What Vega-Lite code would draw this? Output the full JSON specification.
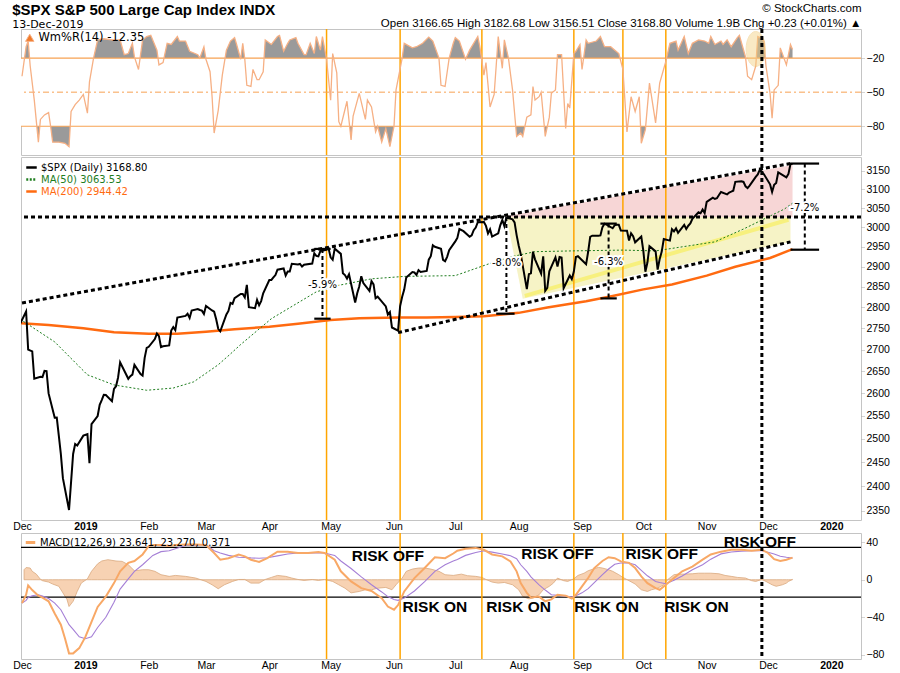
{
"$schema":"https://vega.github.io/schema/vega-lite/v6.json",
"background":"white",
"padding":{"left":12,"right":4,"top":1,"bottom":0},
"spacing":0,
"config":{"view":{"stroke":"#c4c4c4"},"font":"Liberation Sans",
 "axis":{"labelFont":"Liberation Sans","labelFontSize":10.5,"labelColor":"#000","grid":false,"domain":false,"tickColor":"#aaaaaa","tickSize":3,"title":null},
 "legend":{"orient":"top-left","title":null,"symbolType":"stroke","symbolSize":110,"symbolStrokeWidth":2.5,"labelFont":"DejaVu Sans","labelFontSize":10,"rowPadding":0,"padding":2,"offset":2,"labelOffset":3,"labelLimit":500}},
"title":{"text":"$SPX  S&P 500 Large Cap Index  INDX","subtitle":"13-Dec-2019","anchor":"start","font":"Liberation Sans","fontSize":15,"fontWeight":"bold","subtitleFont":"DejaVu Sans","subtitleFontSize":11,"subtitleColor":"#000","subtitlePadding":1,"offset":-28},
"resolve":{"scale":{"x":"independent","y":"independent","color":"independent"},"legend":{"color":"independent"}},
"datasets":{
"price":[{"d":"2018-11-30","v":2760.17},{"d":"2018-12-03","v":2790.37},{"d":"2018-12-04","v":2700.06},{"d":"2018-12-06","v":2695.95},{"d":"2018-12-07","v":2633.08},{"d":"2018-12-10","v":2637.72},{"d":"2018-12-11","v":2636.78},{"d":"2018-12-12","v":2651.07},{"d":"2018-12-13","v":2650.54},{"d":"2018-12-14","v":2599.95},{"d":"2018-12-17","v":2545.94},{"d":"2018-12-18","v":2546.16},{"d":"2018-12-19","v":2506.96},{"d":"2018-12-20","v":2467.42},{"d":"2018-12-21","v":2416.62},{"d":"2018-12-24","v":2351.1},{"d":"2018-12-26","v":2467.7},{"d":"2018-12-27","v":2488.83},{"d":"2018-12-28","v":2485.74},{"d":"2018-12-31","v":2506.85},
{"d":"2019-01-02","v":2510.03},{"d":"2019-01-03","v":2447.89},{"d":"2019-01-04","v":2531.94},{"d":"2019-01-07","v":2549.69},{"d":"2019-01-08","v":2574.41},{"d":"2019-01-09","v":2584.96},{"d":"2019-01-10","v":2596.64},{"d":"2019-01-11","v":2596.26},{"d":"2019-01-14","v":2582.61},{"d":"2019-01-15","v":2610.3},{"d":"2019-01-16","v":2616.1},{"d":"2019-01-17","v":2635.96},{"d":"2019-01-18","v":2670.71},{"d":"2019-01-22","v":2632.9},{"d":"2019-01-23","v":2638.7},{"d":"2019-01-24","v":2642.33},{"d":"2019-01-25","v":2664.76},{"d":"2019-01-28","v":2643.85},{"d":"2019-01-29","v":2640},{"d":"2019-01-30","v":2681.05},{"d":"2019-01-31","v":2704.1},
{"d":"2019-02-01","v":2706.53},{"d":"2019-02-04","v":2724.87},{"d":"2019-02-05","v":2737.7},{"d":"2019-02-06","v":2731.61},{"d":"2019-02-07","v":2706.05},{"d":"2019-02-08","v":2707.88},{"d":"2019-02-11","v":2709.8},{"d":"2019-02-12","v":2744.73},{"d":"2019-02-13","v":2753.03},{"d":"2019-02-14","v":2745.73},{"d":"2019-02-15","v":2775.6},{"d":"2019-02-19","v":2779.76},{"d":"2019-02-20","v":2784.7},{"d":"2019-02-21","v":2774.88},{"d":"2019-02-22","v":2792.67},{"d":"2019-02-25","v":2796.11},{"d":"2019-02-26","v":2793.9},{"d":"2019-02-27","v":2792.38},{"d":"2019-02-28","v":2784.49},
{"d":"2019-03-01","v":2803.69},{"d":"2019-03-04","v":2792.81},{"d":"2019-03-05","v":2789.65},{"d":"2019-03-06","v":2771.45},{"d":"2019-03-07","v":2748.93},{"d":"2019-03-08","v":2743.07},{"d":"2019-03-11","v":2783.3},{"d":"2019-03-12","v":2791.52},{"d":"2019-03-13","v":2810.92},{"d":"2019-03-14","v":2808.48},{"d":"2019-03-15","v":2822.48},{"d":"2019-03-18","v":2832.94},{"d":"2019-03-19","v":2832.57},{"d":"2019-03-20","v":2824.23},{"d":"2019-03-21","v":2854.88},{"d":"2019-03-22","v":2800.71},{"d":"2019-03-25","v":2798.36},{"d":"2019-03-26","v":2818.46},{"d":"2019-03-27","v":2805.37},{"d":"2019-03-28","v":2815.44},{"d":"2019-03-29","v":2834.4},
{"d":"2019-04-01","v":2867.19},{"d":"2019-04-02","v":2867.24},{"d":"2019-04-03","v":2873.4},{"d":"2019-04-04","v":2879.39},{"d":"2019-04-05","v":2892.74},{"d":"2019-04-08","v":2895.77},{"d":"2019-04-09","v":2878.2},{"d":"2019-04-10","v":2888.21},{"d":"2019-04-11","v":2888.32},{"d":"2019-04-12","v":2907.41},{"d":"2019-04-15","v":2905.58},{"d":"2019-04-16","v":2907.06},{"d":"2019-04-17","v":2900.45},{"d":"2019-04-18","v":2905.03},{"d":"2019-04-22","v":2907.97},{"d":"2019-04-23","v":2933.68},{"d":"2019-04-24","v":2927.25},{"d":"2019-04-25","v":2926.17},{"d":"2019-04-26","v":2939.88},{"d":"2019-04-29","v":2943.03},{"d":"2019-04-30","v":2945.83},
{"d":"2019-05-01","v":2923.73},{"d":"2019-05-02","v":2917.52},{"d":"2019-05-03","v":2945.64},{"d":"2019-05-06","v":2932.47},{"d":"2019-05-07","v":2884.05},{"d":"2019-05-08","v":2879.42},{"d":"2019-05-09","v":2870.72},{"d":"2019-05-10","v":2881.4},{"d":"2019-05-13","v":2811.87},{"d":"2019-05-14","v":2834.41},{"d":"2019-05-15","v":2850.96},{"d":"2019-05-16","v":2876.32},{"d":"2019-05-17","v":2859.53},{"d":"2019-05-20","v":2840.23},{"d":"2019-05-21","v":2864.36},{"d":"2019-05-22","v":2856.27},{"d":"2019-05-23","v":2822.24},{"d":"2019-05-24","v":2826.06},{"d":"2019-05-28","v":2802.39},{"d":"2019-05-29","v":2783.02},{"d":"2019-05-30","v":2788.86},{"d":"2019-05-31","v":2752.06},
{"d":"2019-06-03","v":2744.45},{"d":"2019-06-04","v":2803.27},{"d":"2019-06-05","v":2826.15},{"d":"2019-06-06","v":2843.49},{"d":"2019-06-07","v":2873.34},{"d":"2019-06-10","v":2886.73},{"d":"2019-06-11","v":2885.72},{"d":"2019-06-12","v":2879.84},{"d":"2019-06-13","v":2891.64},{"d":"2019-06-14","v":2886.98},{"d":"2019-06-17","v":2889.67},{"d":"2019-06-18","v":2917.75},{"d":"2019-06-19","v":2926.46},{"d":"2019-06-20","v":2954.18},{"d":"2019-06-21","v":2950.46},{"d":"2019-06-24","v":2945.35},{"d":"2019-06-25","v":2917.38},{"d":"2019-06-26","v":2913.78},{"d":"2019-06-27","v":2924.92},{"d":"2019-06-28","v":2941.76},
{"d":"2019-07-01","v":2964.33},{"d":"2019-07-02","v":2973.01},{"d":"2019-07-03","v":2995.82},{"d":"2019-07-05","v":2990.41},{"d":"2019-07-08","v":2975.95},{"d":"2019-07-09","v":2979.63},{"d":"2019-07-10","v":2993.07},{"d":"2019-07-11","v":2999.91},{"d":"2019-07-12","v":3013.77},{"d":"2019-07-15","v":3014.3},{"d":"2019-07-16","v":3004.04},{"d":"2019-07-17","v":2984.42},{"d":"2019-07-18","v":2995.11},{"d":"2019-07-19","v":2976.61},{"d":"2019-07-22","v":2985.03},{"d":"2019-07-23","v":3005.47},{"d":"2019-07-24","v":3019.56},{"d":"2019-07-25","v":3003.67},{"d":"2019-07-26","v":3025.86},{"d":"2019-07-29","v":3020.97},{"d":"2019-07-30","v":3013.18},{"d":"2019-07-31","v":2980.38},
{"d":"2019-08-01","v":2953.56},{"d":"2019-08-02","v":2932.05},{"d":"2019-08-05","v":2844.74},{"d":"2019-08-06","v":2881.77},{"d":"2019-08-07","v":2883.98},{"d":"2019-08-08","v":2938.09},{"d":"2019-08-09","v":2918.65},{"d":"2019-08-12","v":2882.7},{"d":"2019-08-13","v":2926.32},{"d":"2019-08-14","v":2840.6},{"d":"2019-08-15","v":2847.6},{"d":"2019-08-16","v":2888.68},{"d":"2019-08-19","v":2923.65},{"d":"2019-08-20","v":2900.51},{"d":"2019-08-21","v":2924.43},{"d":"2019-08-22","v":2922.95},{"d":"2019-08-23","v":2847.11},{"d":"2019-08-26","v":2878.38},{"d":"2019-08-27","v":2869.16},{"d":"2019-08-28","v":2887.94},{"d":"2019-08-29","v":2924.58},{"d":"2019-08-30","v":2926.46},
{"d":"2019-09-03","v":2906.27},{"d":"2019-09-04","v":2937.78},{"d":"2019-09-05","v":2976},{"d":"2019-09-06","v":2978.71},{"d":"2019-09-09","v":2978.43},{"d":"2019-09-10","v":2979.39},{"d":"2019-09-11","v":3000.93},{"d":"2019-09-12","v":3009.57},{"d":"2019-09-13","v":3007.39},{"d":"2019-09-16","v":2997.96},{"d":"2019-09-17","v":3005.7},{"d":"2019-09-18","v":3006.73},{"d":"2019-09-19","v":3006.79},{"d":"2019-09-20","v":2992.07},{"d":"2019-09-23","v":2991.78},{"d":"2019-09-24","v":2966.6},{"d":"2019-09-25","v":2984.87},{"d":"2019-09-26","v":2977.62},{"d":"2019-09-27","v":2961.79},{"d":"2019-09-30","v":2976.74},
{"d":"2019-10-01","v":2940.25},{"d":"2019-10-02","v":2887.61},{"d":"2019-10-03","v":2910.63},{"d":"2019-10-04","v":2952.01},{"d":"2019-10-07","v":2938.79},{"d":"2019-10-08","v":2893.06},{"d":"2019-10-09","v":2919.4},{"d":"2019-10-10","v":2938.13},{"d":"2019-10-11","v":2970.27},{"d":"2019-10-14","v":2966.15},{"d":"2019-10-15","v":2995.68},{"d":"2019-10-16","v":2989.69},{"d":"2019-10-17","v":2997.95},{"d":"2019-10-18","v":2986.2},{"d":"2019-10-21","v":3006.72},{"d":"2019-10-22","v":2995.99},{"d":"2019-10-23","v":3004.52},{"d":"2019-10-24","v":3010.29},{"d":"2019-10-25","v":3022.55},{"d":"2019-10-28","v":3039.42},{"d":"2019-10-29","v":3036.89},{"d":"2019-10-30","v":3046.77},{"d":"2019-10-31","v":3037.56},
{"d":"2019-11-01","v":3066.91},{"d":"2019-11-04","v":3078.27},{"d":"2019-11-05","v":3074.62},{"d":"2019-11-06","v":3076.78},{"d":"2019-11-07","v":3085.18},{"d":"2019-11-08","v":3093.08},{"d":"2019-11-11","v":3087.01},{"d":"2019-11-12","v":3091.84},{"d":"2019-11-13","v":3094.04},{"d":"2019-11-14","v":3096.63},{"d":"2019-11-15","v":3120.46},{"d":"2019-11-18","v":3122.03},{"d":"2019-11-19","v":3120.18},{"d":"2019-11-20","v":3108.46},{"d":"2019-11-21","v":3103.54},{"d":"2019-11-22","v":3110.29},{"d":"2019-11-25","v":3133.64},{"d":"2019-11-26","v":3140.52},{"d":"2019-11-27","v":3153.63},{"d":"2019-11-29","v":3140.98},
{"d":"2019-12-02","v":3113.87},{"d":"2019-12-03","v":3093.2},{"d":"2019-12-04","v":3112.76},{"d":"2019-12-05","v":3117.43},{"d":"2019-12-06","v":3145.91},{"d":"2019-12-09","v":3135.96},{"d":"2019-12-10","v":3132.52},{"d":"2019-12-11","v":3141.63},{"d":"2019-12-12","v":3168.57},{"d":"2019-12-13","v":3168.8}],
"ma50":[{"d":"2018-11-30","v":2772},{"d":"2018-12-17","v":2718},{"d":"2019-01-02","v":2642},{"d":"2019-01-15","v":2619},{"d":"2019-01-31","v":2607},{"d":"2019-02-13","v":2612},{"d":"2019-02-23","v":2626},{"d":"2019-03-07","v":2665},{"d":"2019-03-13","v":2690},{"d":"2019-03-18","v":2712},{"d":"2019-04-02","v":2773},{"d":"2019-04-24","v":2838},{"d":"2019-05-04","v":2853},{"d":"2019-05-21","v":2870},{"d":"2019-06-06","v":2876},{"d":"2019-07-01","v":2878},{"d":"2019-07-20","v":2912},{"d":"2019-07-30","v":2927},{"d":"2019-08-09","v":2938},{"d":"2019-08-27","v":2940},{"d":"2019-09-21","v":2942},{"d":"2019-10-07","v":2940},{"d":"2019-11-05","v":2963},{"d":"2019-11-19","v":2996},{"d":"2019-12-09","v":3048},{"d":"2019-12-13","v":3063.53}],
"ma200":[{"d":"2018-11-30","v":2762},{"d":"2018-12-14","v":2758},{"d":"2018-12-31","v":2750},{"d":"2019-01-15","v":2741},{"d":"2019-02-01","v":2737},{"d":"2019-02-15","v":2737},{"d":"2019-03-01","v":2742},{"d":"2019-03-15","v":2748},{"d":"2019-04-01","v":2754},{"d":"2019-04-15","v":2761},{"d":"2019-05-01","v":2770},{"d":"2019-05-15","v":2774},{"d":"2019-06-03","v":2776},{"d":"2019-06-17","v":2776},{"d":"2019-07-01","v":2777},{"d":"2019-07-15","v":2779},{"d":"2019-08-01","v":2787},{"d":"2019-08-15","v":2800},{"d":"2019-09-03","v":2815},{"d":"2019-09-16","v":2828},{"d":"2019-10-01","v":2844},{"d":"2019-10-15","v":2856},{"d":"2019-11-01","v":2878},{"d":"2019-11-15","v":2900},{"d":"2019-12-02","v":2922},{"d":"2019-12-13","v":2944.42}],
"wr":[{"d":"2018-12-01","w":-36},{"d":"2018-12-03","w":-10},{"d":"2018-12-04","w":-5},{"d":"2018-12-05","w":-27},{"d":"2018-12-07","w":-57},{"d":"2018-12-09","w":-94},{"d":"2018-12-10","w":-74},{"d":"2018-12-12","w":-70},{"d":"2018-12-14","w":-68},{"d":"2018-12-15","w":-80},{"d":"2018-12-16","w":-94},{"d":"2018-12-19","w":-94},{"d":"2018-12-22","w":-95},{"d":"2018-12-24","w":-98},{"d":"2018-12-25","w":-67},{"d":"2018-12-27","w":-61},{"d":"2018-12-29","w":-57},{"d":"2018-12-31","w":-52},
{"d":"2019-01-02","w":-68.5},{"d":"2019-01-03","w":-41},{"d":"2019-01-05","w":-20},{"d":"2019-01-07","w":-4},{"d":"2019-01-10","w":-3},{"d":"2019-01-14","w":-4},{"d":"2019-01-18","w":-4},{"d":"2019-01-20","w":-17},{"d":"2019-01-22","w":-16},{"d":"2019-01-24","w":-7},{"d":"2019-01-25","w":-19},{"d":"2019-01-27","w":-30},{"d":"2019-01-29","w":-4},{"d":"2019-01-31","w":-1},{"d":"2019-02-02","w":0},{"d":"2019-02-05","w":-13},{"d":"2019-02-06","w":-26},{"d":"2019-02-08","w":-24},{"d":"2019-02-10","w":-7},{"d":"2019-02-12","w":-8},{"d":"2019-02-15","w":-1},{"d":"2019-02-16","w":-5},{"d":"2019-02-19","w":-5},{"d":"2019-02-21","w":-14},{"d":"2019-02-25","w":-17},{"d":"2019-02-26","w":-20},{"d":"2019-02-28","w":-10},
{"d":"2019-03-01","w":-21},{"d":"2019-03-03","w":-32},{"d":"2019-03-04","w":-54},{"d":"2019-03-05","w":-86},{"d":"2019-03-07","w":-66},{"d":"2019-03-09","w":-35},{"d":"2019-03-11","w":-13},{"d":"2019-03-13","w":-5},{"d":"2019-03-15","w":-2},{"d":"2019-03-16","w":-8},{"d":"2019-03-18","w":-21},{"d":"2019-03-19","w":-7},{"d":"2019-03-20","w":-21},{"d":"2019-03-21","w":-44},{"d":"2019-03-23","w":-45},{"d":"2019-03-24","w":-30},{"d":"2019-03-26","w":-39},{"d":"2019-03-27","w":-39},{"d":"2019-03-29","w":-32},{"d":"2019-03-30","w":-4},
{"d":"2019-04-02","w":-8},{"d":"2019-04-05","w":-1},{"d":"2019-04-06","w":0},{"d":"2019-04-08","w":-14},{"d":"2019-04-10","w":-7},{"d":"2019-04-11","w":-4},{"d":"2019-04-14","w":-2},{"d":"2019-04-15","w":-7},{"d":"2019-04-18","w":-17},{"d":"2019-04-19","w":-17},{"d":"2019-04-21","w":-7},{"d":"2019-04-23","w":-16},{"d":"2019-04-24","w":-1},{"d":"2019-04-26","w":-13},{"d":"2019-04-27","w":-1},{"d":"2019-04-29","w":-21},
{"d":"2019-05-01","w":-57},{"d":"2019-05-02","w":-16},{"d":"2019-05-04","w":-33},{"d":"2019-05-05","w":-76},{"d":"2019-05-06","w":-80},{"d":"2019-05-09","w":-58},{"d":"2019-05-11","w":-92},{"d":"2019-05-12","w":-71},{"d":"2019-05-15","w":-51},{"d":"2019-05-18","w":-74},{"d":"2019-05-19","w":-57},{"d":"2019-05-21","w":-63},{"d":"2019-05-23","w":-85},{"d":"2019-05-24","w":-80},{"d":"2019-05-26","w":-94},{"d":"2019-05-28","w":-82},{"d":"2019-05-30","w":-98},
{"d":"2019-06-01","w":-80},{"d":"2019-06-02","w":-48},{"d":"2019-06-05","w":-20},{"d":"2019-06-06","w":-7},{"d":"2019-06-10","w":-11},{"d":"2019-06-12","w":-10},{"d":"2019-06-15","w":-7},{"d":"2019-06-18","w":-1.5},{"d":"2019-06-20","w":-5},{"d":"2019-06-23","w":-20},{"d":"2019-06-24","w":-44},{"d":"2019-06-26","w":-45},{"d":"2019-06-28","w":-20},{"d":"2019-06-30","w":-7},
{"d":"2019-07-01","w":-2},{"d":"2019-07-03","w":-5},{"d":"2019-07-06","w":-21},{"d":"2019-07-08","w":-13},{"d":"2019-07-12","w":-1},{"d":"2019-07-13","w":-10},{"d":"2019-07-15","w":-35},{"d":"2019-07-16","w":-24},{"d":"2019-07-18","w":-63},{"d":"2019-07-20","w":-52},{"d":"2019-07-21","w":-27},{"d":"2019-07-22","w":-1},{"d":"2019-07-24","w":-29},{"d":"2019-07-25","w":-4},{"d":"2019-07-27","w":-20},{"d":"2019-07-29","w":-48},{"d":"2019-07-31","w":-89},
{"d":"2019-08-02","w":-86},{"d":"2019-08-03","w":-89},{"d":"2019-08-05","w":-72},{"d":"2019-08-07","w":-70},{"d":"2019-08-08","w":-45},{"d":"2019-08-09","w":-57},{"d":"2019-08-11","w":-54},{"d":"2019-08-12","w":-50},{"d":"2019-08-14","w":-89},{"d":"2019-08-16","w":-72},{"d":"2019-08-17","w":-51},{"d":"2019-08-19","w":-48},{"d":"2019-08-20","w":-17},{"d":"2019-08-22","w":-17},{"d":"2019-08-24","w":-82},{"d":"2019-08-25","w":-60},{"d":"2019-08-26","w":-64},{"d":"2019-08-28","w":-16},{"d":"2019-08-29","w":-14},{"d":"2019-08-31","w":-8},
{"d":"2019-09-01","w":-30},{"d":"2019-09-03","w":-4},{"d":"2019-09-04","w":-7},{"d":"2019-09-08","w":-5},{"d":"2019-09-10","w":-1},{"d":"2019-09-12","w":-10},{"d":"2019-09-15","w":-10},{"d":"2019-09-19","w":-16},{"d":"2019-09-21","w":-30},{"d":"2019-09-23","w":-85},{"d":"2019-09-25","w":-54},{"d":"2019-09-27","w":-67},{"d":"2019-09-29","w":-54},{"d":"2019-09-30","w":-95},
{"d":"2019-10-02","w":-83},{"d":"2019-10-04","w":-42},{"d":"2019-10-07","w":-77},{"d":"2019-10-09","w":-42},{"d":"2019-10-12","w":-23},{"d":"2019-10-14","w":-7},{"d":"2019-10-17","w":-5},{"d":"2019-10-18","w":-13},{"d":"2019-10-20","w":-5},{"d":"2019-10-21","w":-1},{"d":"2019-10-23","w":-16},{"d":"2019-10-25","w":-7},{"d":"2019-10-28","w":-4},{"d":"2019-10-31","w":-5},
{"d":"2019-11-02","w":-7},{"d":"2019-11-03","w":-1},{"d":"2019-11-05","w":-8},{"d":"2019-11-08","w":-5},{"d":"2019-11-09","w":-8},{"d":"2019-11-11","w":-4},{"d":"2019-11-13","w":-10},{"d":"2019-11-16","w":-2},{"d":"2019-11-17","w":0},{"d":"2019-11-20","w":-19},{"d":"2019-11-21","w":-36},{"d":"2019-11-23","w":-39},{"d":"2019-11-25","w":-27},{"d":"2019-11-26","w":-1},{"d":"2019-11-27","w":-2},{"d":"2019-11-29","w":-5},{"d":"2019-11-30","w":-27},
{"d":"2019-12-02","w":-51},{"d":"2019-12-03","w":-73},{"d":"2019-12-04","w":-48},{"d":"2019-12-06","w":-44},{"d":"2019-12-07","w":-11},{"d":"2019-12-09","w":-21},{"d":"2019-12-10","w":-26},{"d":"2019-12-12","w":-8},{"d":"2019-12-13","w":-12.35}],
"macd":[{"d":"2018-12-01","m":-25,"s":-25},{"d":"2018-12-03","m":-16,"s":-22},{"d":"2018-12-04","m":-6,"s":-19},{"d":"2018-12-06","m":-11,"s":-17},{"d":"2018-12-09","m":-17,"s":-16},{"d":"2018-12-11","m":-19,"s":-17.5},{"d":"2018-12-14","m":-23,"s":-20},{"d":"2018-12-17","m":-36,"s":-25},{"d":"2018-12-20","m":-48,"s":-32},{"d":"2018-12-22","m":-62.5,"s":-40},{"d":"2018-12-24","m":-78.6,"s":-48},{"d":"2018-12-26","m":-78.6,"s":-53},{"d":"2018-12-29","m":-73,"s":-61},
{"d":"2019-01-01","m":-61,"s":-63},{"d":"2019-01-04","m":-45,"s":-61},{"d":"2019-01-07","m":-29,"s":-51},{"d":"2019-01-11","m":-18,"s":-40},{"d":"2019-01-15","m":-3.6,"s":-24},{"d":"2019-01-18","m":9,"s":-10},{"d":"2019-01-22","m":18,"s":1},{"d":"2019-01-25","m":20,"s":9},{"d":"2019-01-29","m":27,"s":16},{"d":"2019-02-01","m":36,"s":22},{"d":"2019-02-03","m":37,"s":26},{"d":"2019-02-07","m":37,"s":30},{"d":"2019-02-11","m":36,"s":31},{"d":"2019-02-14","m":37,"s":33},{"d":"2019-02-19","m":37.5,"s":36.5},{"d":"2019-02-24","m":37.5,"s":37},
{"d":"2019-03-01","m":37,"s":37.5},{"d":"2019-03-05","m":28.6,"s":31},{"d":"2019-03-08","m":21.4,"s":28.5},{"d":"2019-03-12","m":23,"s":26},{"d":"2019-03-17","m":27,"s":24},{"d":"2019-03-20","m":25,"s":23.7},{"d":"2019-03-23","m":21.4,"s":23.3},{"d":"2019-03-27","m":19,"s":23},{"d":"2019-03-31","m":23,"s":23.5},{"d":"2019-04-05","m":30,"s":25.5},{"d":"2019-04-10","m":30,"s":27.4},{"d":"2019-04-15","m":28.6,"s":28.6},{"d":"2019-04-20","m":28.6,"s":28.6},{"d":"2019-04-25","m":29.6,"s":28.6},{"d":"2019-04-28","m":28.6,"s":28.6},
{"d":"2019-05-03","m":21.4,"s":26},{"d":"2019-05-06","m":9,"s":20},{"d":"2019-05-11","m":-1.8,"s":12},{"d":"2019-05-16","m":-9,"s":3},{"d":"2019-05-21","m":-12,"s":-5.4},{"d":"2019-05-26","m":-19.6,"s":-13},{"d":"2019-05-29","m":-28.6,"s":-18},{"d":"2019-06-01","m":-32,"s":-21},{"d":"2019-06-03","m":-27,"s":-22},{"d":"2019-06-06","m":-12.5,"s":-19.6},{"d":"2019-06-11","m":1.8,"s":-12},{"d":"2019-06-16","m":12.5,"s":-2},{"d":"2019-06-21","m":24,"s":9},{"d":"2019-06-26","m":23,"s":16},{"d":"2019-06-30","m":28,"s":20},
{"d":"2019-07-02","m":31,"s":21.5},{"d":"2019-07-06","m":33,"s":26},{"d":"2019-07-11","m":34,"s":29},{"d":"2019-07-15","m":32,"s":31},{"d":"2019-07-19","m":27,"s":29.5},{"d":"2019-07-24","m":25,"s":27.5},{"d":"2019-07-28","m":19.6,"s":25.7},{"d":"2019-07-31","m":9,"s":22.5},{"d":"2019-08-02","m":-3.6,"s":16},{"d":"2019-08-05","m":-14,"s":9},{"d":"2019-08-07","m":-19,"s":3},{"d":"2019-08-11","m":-18,"s":-5.4},{"d":"2019-08-14","m":-23,"s":-11},{"d":"2019-08-17","m":-21,"s":-16},{"d":"2019-08-20","m":-16,"s":-16.7},{"d":"2019-08-24","m":-17,"s":-17.5},{"d":"2019-08-27","m":-20,"s":-18.5},{"d":"2019-08-29","m":-16,"s":-17},
{"d":"2019-09-01","m":-7,"s":-14},{"d":"2019-09-04","m":1.8,"s":-9.5},{"d":"2019-09-07","m":12.5,"s":-3},{"d":"2019-09-11","m":20,"s":5.4},{"d":"2019-09-14","m":24,"s":11.5},{"d":"2019-09-17","m":23,"s":16.5},{"d":"2019-09-20","m":19.6,"s":17.8},{"d":"2019-09-24","m":18,"s":17.8},{"d":"2019-09-27","m":12.5,"s":16},{"d":"2019-09-30","m":3.6,"s":10},{"d":"2019-10-03","m":-3.6,"s":4.2},{"d":"2019-10-07","m":-9,"s":-1.8},{"d":"2019-10-09","m":-10.7,"s":-3},{"d":"2019-10-12","m":-5.4,"s":-4.2},{"d":"2019-10-16","m":1.8,"s":-0.5},{"d":"2019-10-20","m":9,"s":4},{"d":"2019-10-25","m":14,"s":10.7},{"d":"2019-10-30","m":21.4,"s":16},
{"d":"2019-11-03","m":27,"s":22},{"d":"2019-11-08","m":30,"s":27.6},{"d":"2019-11-13","m":32,"s":29.6},{"d":"2019-11-18","m":32,"s":30.6},{"d":"2019-11-23","m":31,"s":31},{"d":"2019-11-28","m":32,"s":31},{"d":"2019-12-01","m":28.6,"s":29.4},{"d":"2019-12-04","m":22,"s":27.5},{"d":"2019-12-07","m":20,"s":25},{"d":"2019-12-10","m":21.4,"s":24},{"d":"2019-12-13","m":23.641,"s":23.27}],
"hist":[{"d":"2018-12-02","h":10.7},{"d":"2018-12-03","h":13},{"d":"2018-12-05","h":12.5},{"d":"2018-12-06","h":9},{"d":"2018-12-08","h":6},{"d":"2018-12-10","h":0.5},{"d":"2018-12-11","h":-1},{"d":"2018-12-14","h":-2.5},{"d":"2018-12-16","h":-4.6},{"d":"2018-12-19","h":-7},{"d":"2018-12-21","h":-14},{"d":"2018-12-23","h":-21},{"d":"2018-12-24","h":-28.6},{"d":"2018-12-26","h":-23},{"d":"2018-12-28","h":-12.5},{"d":"2018-12-30","h":-3.6},
{"d":"2019-01-02","h":1},{"d":"2019-01-04","h":9},{"d":"2019-01-07","h":17},{"d":"2019-01-09","h":20},{"d":"2019-01-12","h":21.4},{"d":"2019-01-16","h":20},{"d":"2019-01-19","h":19.6},{"d":"2019-01-22","h":16},{"d":"2019-01-25","h":9.6},{"d":"2019-01-29","h":10.7},{"d":"2019-02-01","h":10.7},{"d":"2019-02-04","h":9},{"d":"2019-02-07","h":5.4},{"d":"2019-02-11","h":3.6},{"d":"2019-02-14","h":4.6},{"d":"2019-02-19","h":3.6},{"d":"2019-02-24","h":1.8},
{"d":"2019-03-01","h":-1.8},{"d":"2019-03-04","h":-5.4},{"d":"2019-03-07","h":-9.6},{"d":"2019-03-10","h":-5.4},{"d":"2019-03-14","h":-1.8},{"d":"2019-03-17","h":0.3},{"d":"2019-03-20","h":0.3},{"d":"2019-03-23","h":-3.6},{"d":"2019-03-27","h":-3.6},{"d":"2019-03-30","h":0.3},{"d":"2019-04-02","h":2.5},{"d":"2019-04-05","h":4.6},{"d":"2019-04-09","h":3.6},{"d":"2019-04-12","h":1.8},{"d":"2019-04-15","h":0.3},{"d":"2019-04-18","h":-0.7},{"d":"2019-04-22","h":0.3},{"d":"2019-04-25","h":-0.7},{"d":"2019-04-28","h":0.3},
{"d":"2019-05-02","h":-1.8},{"d":"2019-05-05","h":-5.4},{"d":"2019-05-08","h":-9},{"d":"2019-05-11","h":-14},{"d":"2019-05-15","h":-12.5},{"d":"2019-05-18","h":-10.7},{"d":"2019-05-21","h":-10.7},{"d":"2019-05-24","h":-9},{"d":"2019-05-28","h":-8.2},{"d":"2019-05-31","h":-10.7},{"d":"2019-06-02","h":-5.4},{"d":"2019-06-05","h":1.8},{"d":"2019-06-07","h":9},{"d":"2019-06-10","h":11.4},{"d":"2019-06-13","h":12.5},{"d":"2019-06-16","h":12.5},{"d":"2019-06-19","h":11.4},{"d":"2019-06-23","h":9},{"d":"2019-06-26","h":5.4},{"d":"2019-06-30","h":4.6},
{"d":"2019-07-04","h":6},{"d":"2019-07-07","h":4.3},{"d":"2019-07-11","h":3.6},{"d":"2019-07-14","h":2.5},{"d":"2019-07-16","h":0.3},{"d":"2019-07-19","h":-2.5},{"d":"2019-07-22","h":-3.6},{"d":"2019-07-25","h":-2.9},{"d":"2019-07-29","h":-5.4},{"d":"2019-08-01","h":-10.7},{"d":"2019-08-03","h":-17.9},{"d":"2019-08-06","h":-20.4},{"d":"2019-08-08","h":-19.6},{"d":"2019-08-11","h":-16},{"d":"2019-08-13","h":-10.7},{"d":"2019-08-16","h":-7},{"d":"2019-08-18","h":-3.6},{"d":"2019-08-20","h":1.8},{"d":"2019-08-23","h":-1},{"d":"2019-08-25","h":-1.8},{"d":"2019-08-28","h":1},{"d":"2019-08-30","h":4.6},
{"d":"2019-09-02","h":7},{"d":"2019-09-04","h":9.6},{"d":"2019-09-07","h":11.8},{"d":"2019-09-09","h":13.2},{"d":"2019-09-11","h":12.5},{"d":"2019-09-14","h":10.7},{"d":"2019-09-16","h":9},{"d":"2019-09-19","h":5.4},{"d":"2019-09-21","h":2.5},{"d":"2019-09-24","h":-1},{"d":"2019-09-27","h":-4.6},{"d":"2019-09-30","h":-10.7},{"d":"2019-10-03","h":-12.5},{"d":"2019-10-05","h":-10.7},{"d":"2019-10-08","h":-9},{"d":"2019-10-11","h":-5.4},{"d":"2019-10-13","h":0.3},{"d":"2019-10-16","h":5.4},{"d":"2019-10-18","h":6},{"d":"2019-10-21","h":6},{"d":"2019-10-25","h":6.4},{"d":"2019-10-28","h":7},{"d":"2019-10-31","h":7},
{"d":"2019-11-03","h":7},{"d":"2019-11-07","h":6.4},{"d":"2019-11-10","h":4.6},{"d":"2019-11-13","h":3.6},{"d":"2019-11-16","h":2.5},{"d":"2019-11-20","h":1.8},{"d":"2019-11-23","h":-1},{"d":"2019-11-25","h":-1.8},{"d":"2019-11-28","h":0.3},{"d":"2019-11-30","h":-1.8},{"d":"2019-12-03","h":-5.4},{"d":"2019-12-05","h":-7},{"d":"2019-12-08","h":-5.4},{"d":"2019-12-10","h":-3.6},{"d":"2019-12-11","h":-1.8},{"d":"2019-12-13","h":0.371}],
"vlines":[{"d":"2019-04-29"},{"d":"2019-06-04"},{"d":"2019-07-14"},{"d":"2019-08-28"},{"d":"2019-09-21"},{"d":"2019-10-12"}],
"blackline":[{"d":"2019-11-28"}],
"trend":[{"k":"upper","d":"2018-12-01","v":2811},{"k":"upper","d":"2019-12-13","v":3171},{"k":"lower","d":"2019-06-03","v":2740},{"k":"lower","d":"2019-12-12","v":2963}],
"meas":[{"d":"2019-04-27","top":2945,"bot":2773,"mid":2855,"lab":"-5.9%"},{"d":"2019-07-26","top":3027,"bot":2785,"mid":2910,"lab":"-8.0%"},{"d":"2019-09-14","top":3010,"bot":2822,"mid":2912,"lab":"-6.3%"},{"d":"2019-12-19","top":3170,"bot":2943,"mid":3051,"lab":"-7.2%"}],
"caps":[{"d1":"2019-04-23","d2":"2019-05-01","v":2945},{"d1":"2019-04-23","d2":"2019-05-01","v":2773},{"d1":"2019-07-21","d2":"2019-07-30","v":2785},{"d1":"2019-09-10","d2":"2019-09-18","v":3010},{"d1":"2019-09-10","d2":"2019-09-18","v":2822},{"d1":"2019-12-12","d2":"2019-12-26","v":3170},{"d1":"2019-12-12","d2":"2019-12-26","v":2943}],
"risk":[{"d":"2019-05-29","v":25.4,"t":"RISK OFF"},{"d":"2019-06-21","v":-29.6,"t":"RISK ON"},{"d":"2019-08-20","v":27.5,"t":"RISK OFF"},{"d":"2019-08-01","v":-29.6,"t":"RISK ON"},{"d":"2019-10-10","v":27.5,"t":"RISK OFF"},{"d":"2019-09-13","v":-29.6,"t":"RISK ON"},{"d":"2019-11-27","v":40.4,"t":"RISK OFF"},{"d":"2019-10-27","v":-29.6,"t":"RISK ON"}]
},
"vconcat":[
{"width":840,"height":126,
 "layer":[
  {"data":{"name":"wr"},"mark":{"type":"area","color":"#9a9a9a"},
   "encoding":{"x":{"field":"d","type":"temporal","scale":{"domain":[{"year":2018,"month":11,"date":30,"hours":12},{"year":2020,"month":1,"date":15,"hours":12}]},
     "axis":{"orient":"top","labels":false,"ticks":false,"domain":false,"title":["© StockCharts.com","Open 3166.65  High 3182.68  Low 3156.51  Close 3168.80  Volume 1.9B  Chg +0.23 (+0.01%) ▲"],"titleAnchor":"end","titleAlign":"right","titleFont":"Liberation Sans","titleFontSize":11.5,"titleFontWeight":"normal","titleColor":"#000","titleLineHeight":15,"titlePadding":1}},
    "y":{"field":"w","type":"quantitative","scale":{"domain":[-105.3,5.6],"nice":false,"zero":false},"axis":{"orient":"right","values":[-20,-50,-80],"tickDash":[1,1]}},
    "y2":{"datum":-50}}},
  {"data":{"values":[{}]},"mark":{"type":"rect","color":"white"},"encoding":{
    "x":{"datum":{"year":2018,"month":11,"date":30,"hours":12},"type":"temporal","scale":{"domain":[{"year":2018,"month":11,"date":30,"hours":12},{"year":2020,"month":1,"date":15,"hours":12}]}},
    "x2":{"datum":{"year":2020,"month":1,"date":15,"hours":12}},
    "y":{"datum":-20,"type":"quantitative","scale":{"domain":[-105.3,5.6],"nice":false,"zero":false}},"y2":{"datum":-80}}},
  {"data":{"name":"vlines"},"mark":{"type":"rule","color":"#ffa500","strokeWidth":1.5,"clip":true},"encoding":{"x":{"field":"d","type":"temporal","scale":{"domain":[{"year":2018,"month":11,"date":30,"hours":12},{"year":2020,"month":1,"date":15,"hours":12}]}}}},
  {"data":{"values":[{"v":-20},{"v":-80}]},"mark":{"type":"rule","color":"#f7a252","strokeWidth":1.2},"encoding":{"y":{"field":"v","type":"quantitative","scale":{"domain":[-105.3,5.6],"nice":false,"zero":false}}}},
  {"data":{"values":[{"v":-50}]},"mark":{"type":"rule","color":"#f7a252","strokeWidth":1,"strokeDash":[6,3,2,3]},"encoding":{"y":{"field":"v","type":"quantitative","scale":{"domain":[-105.3,5.6],"nice":false,"zero":false}}}},
  {"data":{"name":"wr"},"mark":{"type":"line","strokeWidth":1.3,"clip":true},
   "encoding":{"x":{"field":"d","type":"temporal","scale":{"domain":[{"year":2018,"month":11,"date":30,"hours":12},{"year":2020,"month":1,"date":15,"hours":12}]}},
    "y":{"field":"w","type":"quantitative","scale":{"domain":[-105.3,5.6],"nice":false,"zero":false}},
    "color":{"datum":"Wm%R(14) -12.35","type":"nominal","scale":{"range":["#f6b084"]},"legend":{"symbolType":"triangle-up","symbolFillColor":"#f07a2a","symbolStrokeColor":"#f07a2a","symbolSize":70,"symbolStrokeWidth":1,"labelFontSize":11.5,"offset":1}}}},
  {"data":{"values":[{"d":"2019-11-25","w":-12}]},"mark":{"type":"point","shape":"M -0.55 0 A 0.55 1 0 1 0 0.55 0 A 0.55 1 0 1 0 -0.55 0 Z","size":1225,"filled":true,"color":"#f3cf7e","opacity":0.45,"stroke":"#eec36a","strokeWidth":1},
   "encoding":{"x":{"field":"d","type":"temporal","scale":{"domain":[{"year":2018,"month":11,"date":30,"hours":12},{"year":2020,"month":1,"date":15,"hours":12}]}},"y":{"field":"w","type":"quantitative","scale":{"domain":[-105.3,5.6],"nice":false,"zero":false}}}},
  {"data":{"name":"blackline"},"mark":{"type":"rule","color":"#000","strokeWidth":3,"strokeDash":[4,3],"clip":true},"encoding":{"x":{"field":"d","type":"temporal","scale":{"domain":[{"year":2018,"month":11,"date":30,"hours":12},{"year":2020,"month":1,"date":15,"hours":12}]}}}}
 ]},
{"width":840,"height":363,
 "layer":[
  {"data":{"values":[{"d":"2019-07-26","v":3030,"v2":3027},{"d":"2019-12-13","v":3166,"v2":3027}]},"mark":{"type":"area","color":"#f7d6d6"},
   "encoding":{"x":{"field":"d","type":"temporal","scale":{"domain":[{"year":2018,"month":11,"date":30,"hours":12},{"year":2020,"month":1,"date":15,"hours":12}]},
     "axis":{"orient":"bottom","tickCount":{"interval":"month","step":1},"labelExpr":"month(datum.value)==0 ? timeFormat(datum.value,'%Y') : timeFormat(datum.value,'%b')","labelFontWeight":{"condition":{"test":"month(datum.value)==0","value":"bold"},"value":"normal"},"labelOverlap":false,"ticks":false,"labelPadding":1}},
    "y":{"field":"v","type":"quantitative","scale":{"type":"log","domain":[2331,3188],"nice":false},"axis":{"orient":"right","values":[2350,2400,2450,2500,2550,2600,2650,2700,2750,2800,2850,2900,2950,3000,3050,3100,3150],"format":"d","tickDash":[1,1]}},
    "y2":{"field":"v2"}}},
  {"data":{"values":[{"d":"2019-07-26","v":3027,"v2":3027},{"d":"2019-08-03","v":2821,"v2":3027},{"d":"2019-12-12","v":2963,"v2":3027}]},"mark":{"type":"area","color":"#f6f3c6"},
   "encoding":{"x":{"field":"d","type":"temporal","scale":{"domain":[{"year":2018,"month":11,"date":30,"hours":12},{"year":2020,"month":1,"date":15,"hours":12}]}},"y":{"field":"v","type":"quantitative","scale":{"type":"log","domain":[2331,3188],"nice":false}},"y2":{"field":"v2"}}},
  {"data":{"values":[{"d":"2019-08-04","v":2828},{"d":"2019-12-11","v":3020}]},"mark":{"type":"line","color":"#f7f07e","strokeWidth":4},
   "encoding":{"x":{"field":"d","type":"temporal","scale":{"domain":[{"year":2018,"month":11,"date":30,"hours":12},{"year":2020,"month":1,"date":15,"hours":12}]}},"y":{"field":"v","type":"quantitative","scale":{"type":"log","domain":[2331,3188],"nice":false}}}},
  {"data":{"name":"vlines"},"mark":{"type":"rule","color":"#ffa500","strokeWidth":1.5,"clip":true},"encoding":{"x":{"field":"d","type":"temporal","scale":{"domain":[{"year":2018,"month":11,"date":30,"hours":12},{"year":2020,"month":1,"date":15,"hours":12}]}}}},
  {"data":{"name":"ma200"},"mark":{"type":"line","strokeWidth":2.5,"clip":true},
   "encoding":{"x":{"field":"d","type":"temporal","scale":{"domain":[{"year":2018,"month":11,"date":30,"hours":12},{"year":2020,"month":1,"date":15,"hours":12}]}},"y":{"field":"v","type":"quantitative","scale":{"type":"log","domain":[2331,3188],"nice":false}},
    "color":{"datum":"MA(200) 2944.42","type":"nominal"}}},
  {"data":{"name":"ma50"},"mark":{"type":"line","strokeWidth":1,"strokeDash":[2,2],"clip":true},
   "encoding":{"x":{"field":"d","type":"temporal","scale":{"domain":[{"year":2018,"month":11,"date":30,"hours":12},{"year":2020,"month":1,"date":15,"hours":12}]}},"y":{"field":"v","type":"quantitative","scale":{"type":"log","domain":[2331,3188],"nice":false}},
    "color":{"datum":"MA(50) 3063.53","type":"nominal"}}},
  {"data":{"name":"price"},"mark":{"type":"line","strokeWidth":2,"clip":true},
   "encoding":{"x":{"field":"d","type":"temporal","scale":{"domain":[{"year":2018,"month":11,"date":30,"hours":12},{"year":2020,"month":1,"date":15,"hours":12}]}},"y":{"field":"v","type":"quantitative","scale":{"type":"log","domain":[2331,3188],"nice":false}},
    "color":{"datum":"$SPX (Daily) 3168.80","type":"nominal","scale":{"domain":["$SPX (Daily) 3168.80","MA(50) 3063.53","MA(200) 2944.42"],"range":["#000000","#1e7d1e","#ff6a10"]},
     "legend":{"encode":{"labels":{"update":{"fill":{"signal":"datum.label == 'MA(50) 3063.53' ? '#1e7d1e' : datum.label == 'MA(200) 2944.42' ? '#ff6a10' : '#000000'"}}},
       "symbols":{"update":{"strokeDash":{"signal":"datum.label == 'MA(50) 3063.53' ? [2,1.5] : [1,0]"}}}}}}}},
  {"data":{"values":[{"v":3027}]},"mark":{"type":"rule","color":"#000","strokeWidth":3,"strokeDash":[4,3]},"encoding":{"y":{"field":"v","type":"quantitative","scale":{"type":"log","domain":[2331,3188],"nice":false}}}},
  {"data":{"name":"trend"},"mark":{"type":"line","color":"#000","strokeWidth":3,"strokeDash":[4,3]},
   "encoding":{"x":{"field":"d","type":"temporal","scale":{"domain":[{"year":2018,"month":11,"date":30,"hours":12},{"year":2020,"month":1,"date":15,"hours":12}]}},"y":{"field":"v","type":"quantitative","scale":{"type":"log","domain":[2331,3188],"nice":false}},"detail":{"field":"k"}}},
  {"data":{"name":"meas"},"mark":{"type":"rule","color":"#000","strokeWidth":2,"strokeDash":[4,3]},
   "encoding":{"x":{"field":"d","type":"temporal","scale":{"domain":[{"year":2018,"month":11,"date":30,"hours":12},{"year":2020,"month":1,"date":15,"hours":12}]}},"y":{"field":"top","type":"quantitative","scale":{"type":"log","domain":[2331,3188],"nice":false}},"y2":{"field":"bot"}}},
  {"data":{"name":"caps"},"mark":{"type":"rule","color":"#000","strokeWidth":2.2},
   "encoding":{"x":{"field":"d1","type":"temporal","scale":{"domain":[{"year":2018,"month":11,"date":30,"hours":12},{"year":2020,"month":1,"date":15,"hours":12}]}},"x2":{"field":"d2"},"y":{"field":"v","type":"quantitative","scale":{"type":"log","domain":[2331,3188],"nice":false}}}},
  {"data":{"name":"meas"},"mark":{"type":"text","font":"DejaVu Sans","fontSize":10,"color":"white","stroke":"white","strokeWidth":4},
   "encoding":{"x":{"field":"d","type":"temporal","scale":{"domain":[{"year":2018,"month":11,"date":30,"hours":12},{"year":2020,"month":1,"date":15,"hours":12}]}},"y":{"field":"mid","type":"quantitative","scale":{"type":"log","domain":[2331,3188],"nice":false}},"text":{"field":"lab"}}},
  {"data":{"name":"meas"},"mark":{"type":"text","font":"DejaVu Sans","fontSize":10,"color":"#000"},
   "encoding":{"x":{"field":"d","type":"temporal","scale":{"domain":[{"year":2018,"month":11,"date":30,"hours":12},{"year":2020,"month":1,"date":15,"hours":12}]}},"y":{"field":"mid","type":"quantitative","scale":{"type":"log","domain":[2331,3188],"nice":false}},"text":{"field":"lab"}}},
  {"data":{"name":"blackline"},"mark":{"type":"rule","color":"#000","strokeWidth":3,"strokeDash":[4,3],"clip":true},"encoding":{"x":{"field":"d","type":"temporal","scale":{"domain":[{"year":2018,"month":11,"date":30,"hours":12},{"year":2020,"month":1,"date":15,"hours":12}]}}}}
 ]},
{"width":840,"height":126,
 "layer":[
  {"data":{"name":"hist"},"mark":{"type":"area","color":"#f7d2b3","stroke":"#d9a87e","strokeWidth":0.8},
   "encoding":{"x":{"field":"d","type":"temporal","scale":{"domain":[{"year":2018,"month":11,"date":30,"hours":12},{"year":2020,"month":1,"date":15,"hours":12}]},
     "axis":{"orient":"bottom","tickCount":{"interval":"month","step":1},"labelExpr":"month(datum.value)==0 ? timeFormat(datum.value,'%Y') : timeFormat(datum.value,'%b')","labelFontWeight":{"condition":{"test":"month(datum.value)==0","value":"bold"},"value":"normal"},"labelOverlap":false,"ticks":false,"labelPadding":1}},
    "y":{"field":"h","type":"quantitative","scale":{"domain":[-84.6,49.9],"nice":false,"zero":false},"axis":{"orient":"right","values":[40,20,0,-20,-40,-60,-80],"tickDash":[1,1]}},
    "y2":{"datum":0}}},
  {"data":{"values":[{"v":34.5},{"v":-18.5}]},"mark":{"type":"rule","color":"#000","strokeWidth":1.2},"encoding":{"y":{"field":"v","type":"quantitative","scale":{"domain":[-84.6,49.9],"nice":false,"zero":false}}}},
  {"data":{"name":"vlines"},"mark":{"type":"rule","color":"#ffa500","strokeWidth":1.5,"clip":true},"encoding":{"x":{"field":"d","type":"temporal","scale":{"domain":[{"year":2018,"month":11,"date":30,"hours":12},{"year":2020,"month":1,"date":15,"hours":12}]}}}},
  {"data":{"name":"macd"},"mark":{"type":"line","color":"#a57fd6","strokeWidth":1.1},
   "encoding":{"x":{"field":"d","type":"temporal","scale":{"domain":[{"year":2018,"month":11,"date":30,"hours":12},{"year":2020,"month":1,"date":15,"hours":12}]}},"y":{"field":"s","type":"quantitative","scale":{"domain":[-84.6,49.9],"nice":false,"zero":false}}}},
  {"data":{"name":"macd"},"mark":{"type":"line","strokeWidth":2},
   "encoding":{"x":{"field":"d","type":"temporal","scale":{"domain":[{"year":2018,"month":11,"date":30,"hours":12},{"year":2020,"month":1,"date":15,"hours":12}]}},"y":{"field":"m","type":"quantitative","scale":{"domain":[-84.6,49.9],"nice":false,"zero":false}},
    "color":{"datum":"MACD(12,26,9) 23.641, 23.270, 0.371","type":"nominal","scale":{"range":["#f8a866"]},"legend":{"symbolStrokeWidth":3,"symbolSize":90,"offset":1}}}},
  {"data":{"name":"blackline"},"mark":{"type":"rule","color":"#000","strokeWidth":3,"strokeDash":[4,3],"clip":true},"encoding":{"x":{"field":"d","type":"temporal","scale":{"domain":[{"year":2018,"month":11,"date":30,"hours":12},{"year":2020,"month":1,"date":15,"hours":12}]}}}},
  {"data":{"name":"risk"},"mark":{"type":"text","font":"Liberation Sans","fontSize":15.5,"fontWeight":"bold","color":"#000"},
   "encoding":{"x":{"field":"d","type":"temporal","scale":{"domain":[{"year":2018,"month":11,"date":30,"hours":12},{"year":2020,"month":1,"date":15,"hours":12}]}},"y":{"field":"v","type":"quantitative","scale":{"domain":[-84.6,49.9],"nice":false,"zero":false}},"text":{"field":"t"}}}
 ]}
]
}
